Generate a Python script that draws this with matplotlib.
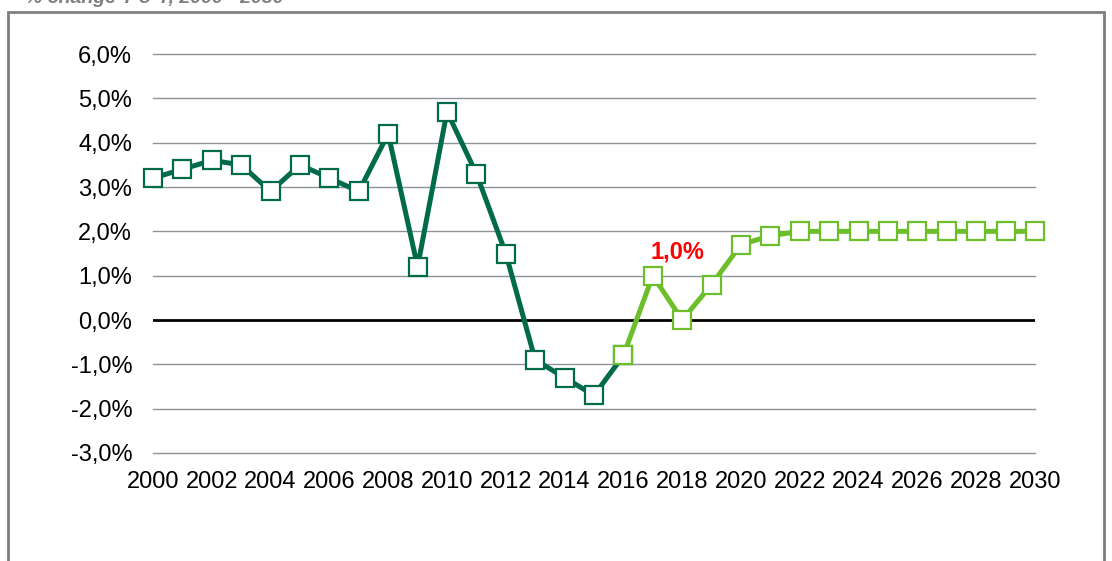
import matplotlib
matplotlib.use('Agg')
import matplotlib.pyplot as plt
from matplotlib.patches import Rectangle

plt.rcParams['font.family'] = ['Liberation Sans', 'DejaVu Sans']

# history (dark) and forecast (light)
years_hist = list(range(2000, 2017))
vals_hist = [3.2, 3.4, 3.6, 3.5, 2.9, 3.5, 3.2, 2.9, 4.2, 1.2, 4.7, 3.3, 1.5,
             -0.9, -1.3, -1.7, -0.8]
years_fc = list(range(2016, 2031))
vals_fc = [-0.8, 1.0, 0.0, 0.8, 1.7, 1.9, 2.0, 2.0, 2.0, 2.0, 2.0, 2.0, 2.0,
           2.0, 2.0]
yticks = [-3, -2, -1, 0, 1, 2, 3, 4, 5, 6]
xticks = list(range(2000, 2031, 2))
label_year = 2017
label_text = '1,0%'
title = '% change Y-o-Y, 2000 - 2030'

dark = '#006b4a'
light = '#6cbf2a'

W, H = 1112, 561
fig = plt.figure(figsize=(W / 100, H / 100), dpi=100)
ax = fig.add_axes([153 / W, 1 - 453 / H, (1035 - 153) / W, (453 - 54) / H])

# outer frame, bottom runs off the picture
fig.patches.append(Rectangle((8 / W, -0.2), (1104 - 8) / W, 1.2 - 12 / H,
                             transform=fig.transFigure, fill=False,
                             edgecolor='#7f7f7f', linewidth=2))
# title is cut by the top edge, as in the original
fig.text(25 / W, 1 - 3 / H, title, fontsize=14, fontweight='bold',
         fontstyle='italic', color='#7f7f7f', va='baseline', ha='left')

for y in yticks:
    if y == 0:
        continue
    ax.axhline(y, color='#8c9399', linewidth=1, zorder=1, clip_on=False)
ax.axhline(0, color='black', linewidth=2, zorder=2)

ax.plot(years_hist, vals_hist, color=dark, linewidth=3.6, marker='s',
        markersize=13, markerfacecolor='white', markeredgecolor=dark,
        markeredgewidth=1.6, clip_on=False, zorder=3)
ax.plot(years_fc, vals_fc, color=light, linewidth=3.6, marker='s',
        markersize=13, markerfacecolor='white', markeredgecolor=light,
        markeredgewidth=1.6, clip_on=False, zorder=4)

i = years_fc.index(label_year)
ax.text(label_year + 0.85, vals_fc[i] + 0.53, label_text, color='#ff0000',
        fontsize=17, fontweight='bold', ha='center', va='center')

ax.set_xlim(2000, 2030)
ax.set_ylim(-3, 6)
ax.set_xticks(xticks)
ax.set_xticklabels([str(x) for x in xticks])
ax.set_yticks(yticks)
ax.set_yticklabels([('%.1f%%' % v).replace('.', ',') for v in yticks])
ax.tick_params(axis='both', length=0, labelsize=17)
ax.tick_params(axis='y', pad=15)
ax.tick_params(axis='x', pad=13)
for s in ax.spines.values():
    s.set_visible(False)

fig.savefig('out.png', dpi=100)
